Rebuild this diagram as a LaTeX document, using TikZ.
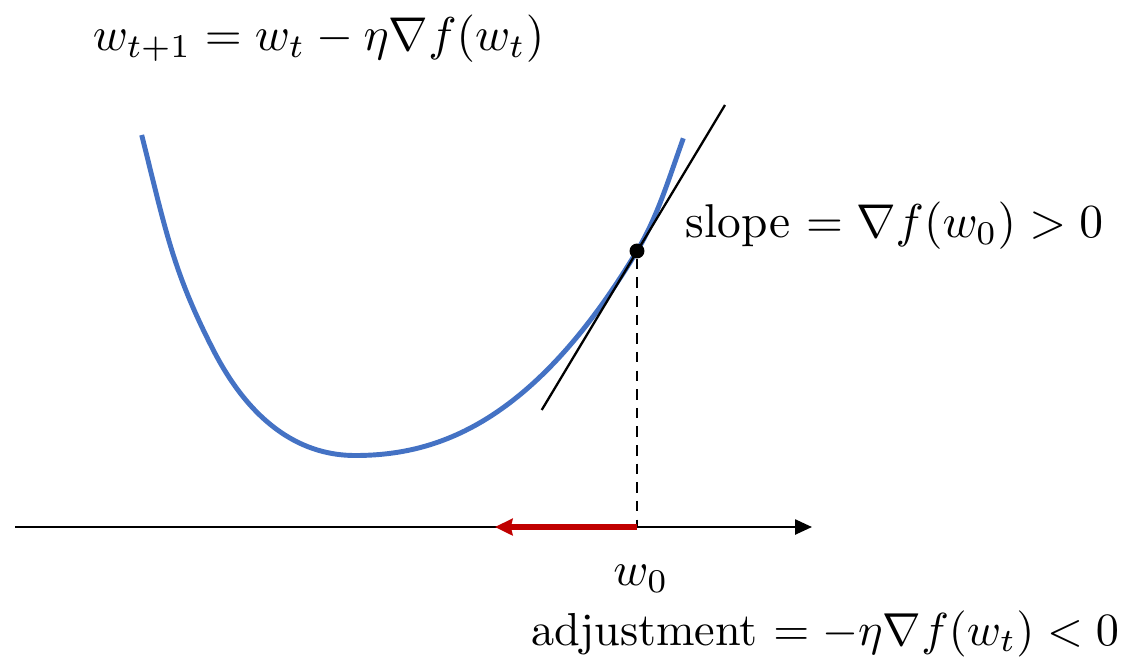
\documentclass[tikz,border=0pt]{standalone}
\usetikzlibrary{arrows.meta}
\definecolor{curveblue}{RGB}{68,114,196}
\definecolor{adjred}{RGB}{192,0,0}
\begin{document}
\begin{tikzpicture}[x=0.02cm,y=-0.02cm,
  lbl/.style={inner sep=0pt,scale=2.7,transform shape},
  curve/.style={curveblue,line width=2.8pt,line cap=butt},
  axis/.style={line width=1.3pt,-{Triangle[length=9.6pt,width=8.5pt]}},
  adjarrow/.style={adjred,line width=3pt,-{Stealth[length=10pt,width=9.5pt,inset=1pt]}},
  tangent/.style={line width=1.3pt},
  dropline/.style={line width=1.3pt,dash pattern=on 6pt off 4.6pt}]
\useasboundingbox (0,0) rectangle (1125,660);
% formula
\node[lbl,anchor=base west] (formula) at (92,50) {$w_{t+1} = w_t - \eta\nabla f(w_t)$};
% curve
\coordinate (cStart) at (141.7,135);
\coordinate (cMid) at (213.3,350);
\coordinate (cMin) at (355,455.5);
\coordinate (cDot) at (637,251);
\coordinate (cEnd) at (683.3,138.3);
\draw[curve] (cStart) .. controls (166,232) and (173.3,272) .. (cMid)
  .. controls (253.3,428) and (305,455.5) .. (cMin)
  .. controls (435,455.5) and (532,425.6) .. (cDot)
  .. controls (657,217.7) and (668.3,180.3) .. (cEnd);
% tangent
\coordinate (tA) at (541.7,410);
\coordinate (tB) at (725,105);
\draw[tangent] (tA) -- (tB);
% point
\node[circle,fill=black,inner sep=0pt,minimum size=8.5pt] (p) at (cDot) {};
% axis
\coordinate (axL) at (15,527);
\coordinate (axR) at (812,527);
\coordinate (w0) at (637,527);
\coordinate (adjEnd) at (495,527);
\draw[axis] (axL) -- (axR);
\draw[dropline] (p) -- (w0);
\draw[adjarrow] (w0) -- (adjEnd);
% labels
\node[lbl,anchor=base west] (slope) at (685,237) {slope $= \nabla f(w_0) > 0$};
\node[lbl,anchor=base] (w0lbl) at (641,585) {$w_0$};
\node[lbl,anchor=base east,scale=0.975] (adj) at (1120,645) {adjustment $= -\eta\nabla f(w_t) < 0$};
\end{tikzpicture}
\end{document}
